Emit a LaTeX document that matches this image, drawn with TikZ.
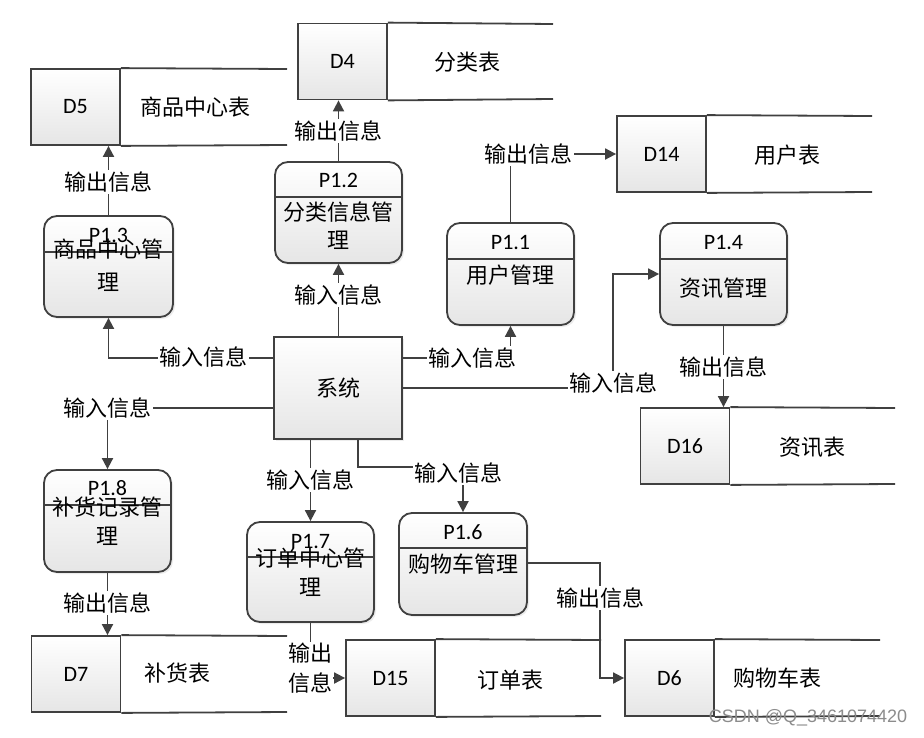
\documentclass[tikz,border=0pt]{standalone}
\usepackage{fontspec}
\setmainfont{Carlito}
\newfontfamily\cjk{Noto Sans CJK SC}
\newfontfamily\wmfont{Liberation Sans}
\usetikzlibrary{arrows.meta,shadows}
\definecolor{ln}{HTML}{404040}
\tikzset{
  base/.style={draw=ln, line width=1.8pt},
  flow/.style={base, -{Triangle[length=11pt,width=11pt]}},
  shade/.style={top color=white, bottom color=black!10},
  proc/.style={base, shade, rounded corners=13pt, minimum width=127pt, minimum height=101pt, inner sep=0pt,
    drop shadow={opacity=0.15, shadow xshift=2pt, shadow yshift=-2pt}},
  sysbox/.style={base, shade, minimum width=128pt, minimum height=102pt, inner sep=0pt,
    drop shadow={opacity=0.15, shadow xshift=2pt, shadow yshift=-2pt}},
  idbox/.style={base, shade, minimum width=89pt, minimum height=76pt, inner sep=0pt,
    font=\fontsize{22}{26}\selectfont},
  ptxt/.style={font=\fontsize{22}{26}\selectfont, inner sep=0pt},
  zh/.style={font=\cjk\fontsize{22}{30}\selectfont, inner sep=0pt},
  lab/.style={font=\cjk\fontsize{22}{30}\selectfont, fill=white, inner sep=1.5pt, align=center},
}
\begin{document}
\begin{tikzpicture}[x=1pt,y=-1pt]
\useasboundingbox (0,0) rectangle (924,737);
\fill[white] (0,0) rectangle (924,737);

% ---------- data stores ----------
\node[idbox] (d4) at (342.5,61.5) {D4};
\draw[base] (d4.north east) -- (553,24);
\draw[base] (d4.south east) -- (553,99);
\node[zh] (t4) at (467,62) {分类表};

\node[idbox] (d5) at (75.5,107) {D5};
\draw[base] (d5.north east) -- (287,69);
\draw[base] (d5.south east) -- (287,145);
\node[zh] (t5) at (195,107) {商品中心表};

\node[idbox] (d14) at (661.5,154) {D14};
\draw[base] (d14.north east) -- (872,116);
\draw[base] (d14.south east) -- (872,192);
\node[zh] (t14) at (787,155) {用户表};

\node[idbox] (d16) at (685,446) {D16};
\draw[base] (d16.north east) -- (895,408);
\draw[base] (d16.south east) -- (895,484);
\node[zh] (t16) at (812,447) {资讯表};

\node[idbox] (d7) at (76,674) {D7};
\draw[base] (d7.north east) -- (287,636);
\draw[base] (d7.south east) -- (287,712);
\node[zh] (t7) at (177,673) {补货表};

\node[idbox] (d15) at (390.5,678) {D15};
\draw[base] (d15.north east) -- (601,640);
\draw[base] (d15.south east) -- (601,716);
\node[zh] (t15) at (510,680) {订单表};

\node[idbox] (d6) at (669.5,678) {D6};
\draw[base] (d6.north east) -- (880,640);
\draw[base] (d6.south east) -- (880,716);
\node[zh] (t6) at (777,678) {购物车表};

% ---------- processes ----------
\node[proc] (p12) at (338.5,212.5) {};
\draw[base] (p12.west |- 0,197) -- (p12.east |- 0,197);
\node[ptxt] (n12) at (338.5,180) {P1.2};
\node[zh] (b12a) at (338.5,212) {分类信息管};
\node[zh] (b12b) at (338.5,240) {理};

\node[proc, minimum width=129pt] (p13) at (108.5,266.5) {};
\draw[base] (p13.west |- 0,252) -- (p13.east |- 0,252);
\node[ptxt] (n13) at (108.5,235) {P1.3};
\node[zh] (b13a) at (108.5,249) {商品中心管};
\node[zh] (b13b) at (108.5,282) {理};

\node[proc, minimum height=102pt] (p11) at (510.5,274) {};
\draw[base] (p11.west |- 0,259) -- (p11.east |- 0,259);
\node[ptxt] (n11) at (510.5,243) {P1.1};
\node[zh] (b11) at (510.5,275) {用户管理};

\node[proc, minimum height=102pt] (p14) at (723.5,274) {};
\draw[base] (p14.west |- 0,259) -- (p14.east |- 0,259);
\node[ptxt] (n14) at (723.5,243) {P1.4};
\node[zh] (b14) at (723.5,288) {资讯管理};

\node[proc, minimum height=102pt] (p18) at (107.5,521) {};
\draw[base] (p18.west |- 0,505) -- (p18.east |- 0,505);
\node[ptxt] (n18) at (107.5,488) {P1.8};
\node[zh] (b18a) at (107.5,507) {补货记录管};
\node[zh] (b18b) at (107.5,536) {理};

\node[proc, minimum height=100pt] (p17) at (310.5,572) {};
\draw[base] (p17.west |- 0,557) -- (p17.east |- 0,557);
\node[ptxt] (n17) at (310.5,541) {P1.7};
\node[zh] (b17a) at (310.5,558) {订单中心管};
\node[zh] (b17b) at (310.5,587) {理};

\node[proc, minimum width=128pt, minimum height=102pt] (p16) at (463,564) {};
\draw[base] (p16.west |- 0,548) -- (p16.east |- 0,548);
\node[ptxt] (n16) at (463,532) {P1.6};
\node[zh] (b16) at (463,564) {购物车管理};

% ---------- system ----------
\node[sysbox] (sys) at (338,388) {};
\node[zh] (st) at (338,388) {系统};

% ---------- connectors ----------
\coordinate (k14) at (613,388);
\coordinate (k16) at (358,467);
\coordinate (k6) at (600,563);

\draw[flow] (p13.north) -- (p13.north |- d5.south);
\draw[flow] (p12.north) -- (p12.north |- d4.south);
\draw[flow] (p11.north) |- (d14.west);
\draw[flow] (sys.north -| p12.south) -- (p12.south);
\draw[flow] (sys.west |- 0,358) -| (p13.south);
\draw[flow] (sys.east |- 0,358) -| (p11.south);
\draw[flow] (sys.east) -- (k14) |- (p14.west);
\draw[flow] (sys.west |- 0,408) -| (p18.north);
\draw[flow] (p17.north |- sys.south) -- (p17.north);
\draw[flow] (k16 |- sys.south) -- (k16) -| (p16.north);
\draw[flow] (p14.south) -- (p14.south |- d16.north);
\draw[flow] (p18.south) -- (p18.south |- d7.north);
\draw[flow] (p17.south) |- (d15.west);
\draw[flow] (p16.east |- k6) -- (k6) |- (d6.west);

% ---------- labels ----------
\node[lab] (l1) at (108,182) {输出信息};
\node[lab] (l2) at (338,131) {输出信息};
\node[lab] (l3) at (528,154) {输出信息};
\node[lab] (l4) at (338,295) {输入信息};
\node[lab] (l5) at (203,357) {输入信息};
\node[lab] (l6) at (472,358) {输入信息};
\node[lab] (l7) at (613,383) {输入信息};
\node[lab] (l8) at (107,408) {输入信息};
\node[lab] (l9) at (310,480) {输入信息};
\node[lab] (l10) at (458,473) {输入信息};
\node[lab] (l11) at (723,367) {输出信息};
\node[lab] (l12) at (107,603) {输出信息};
\node[lab, inner sep=0.5pt] (l13) at (310,668) {输出\\信息};
\node[lab] (l14) at (600,598) {输出信息};

% ---------- watermark ----------
\node[font=\wmfont\fontsize{18}{22}\selectfont, text=black!45, inner sep=0pt] (wm) at (808,718) {CSDN @Q\_3461074420};
\end{tikzpicture}
\end{document}
